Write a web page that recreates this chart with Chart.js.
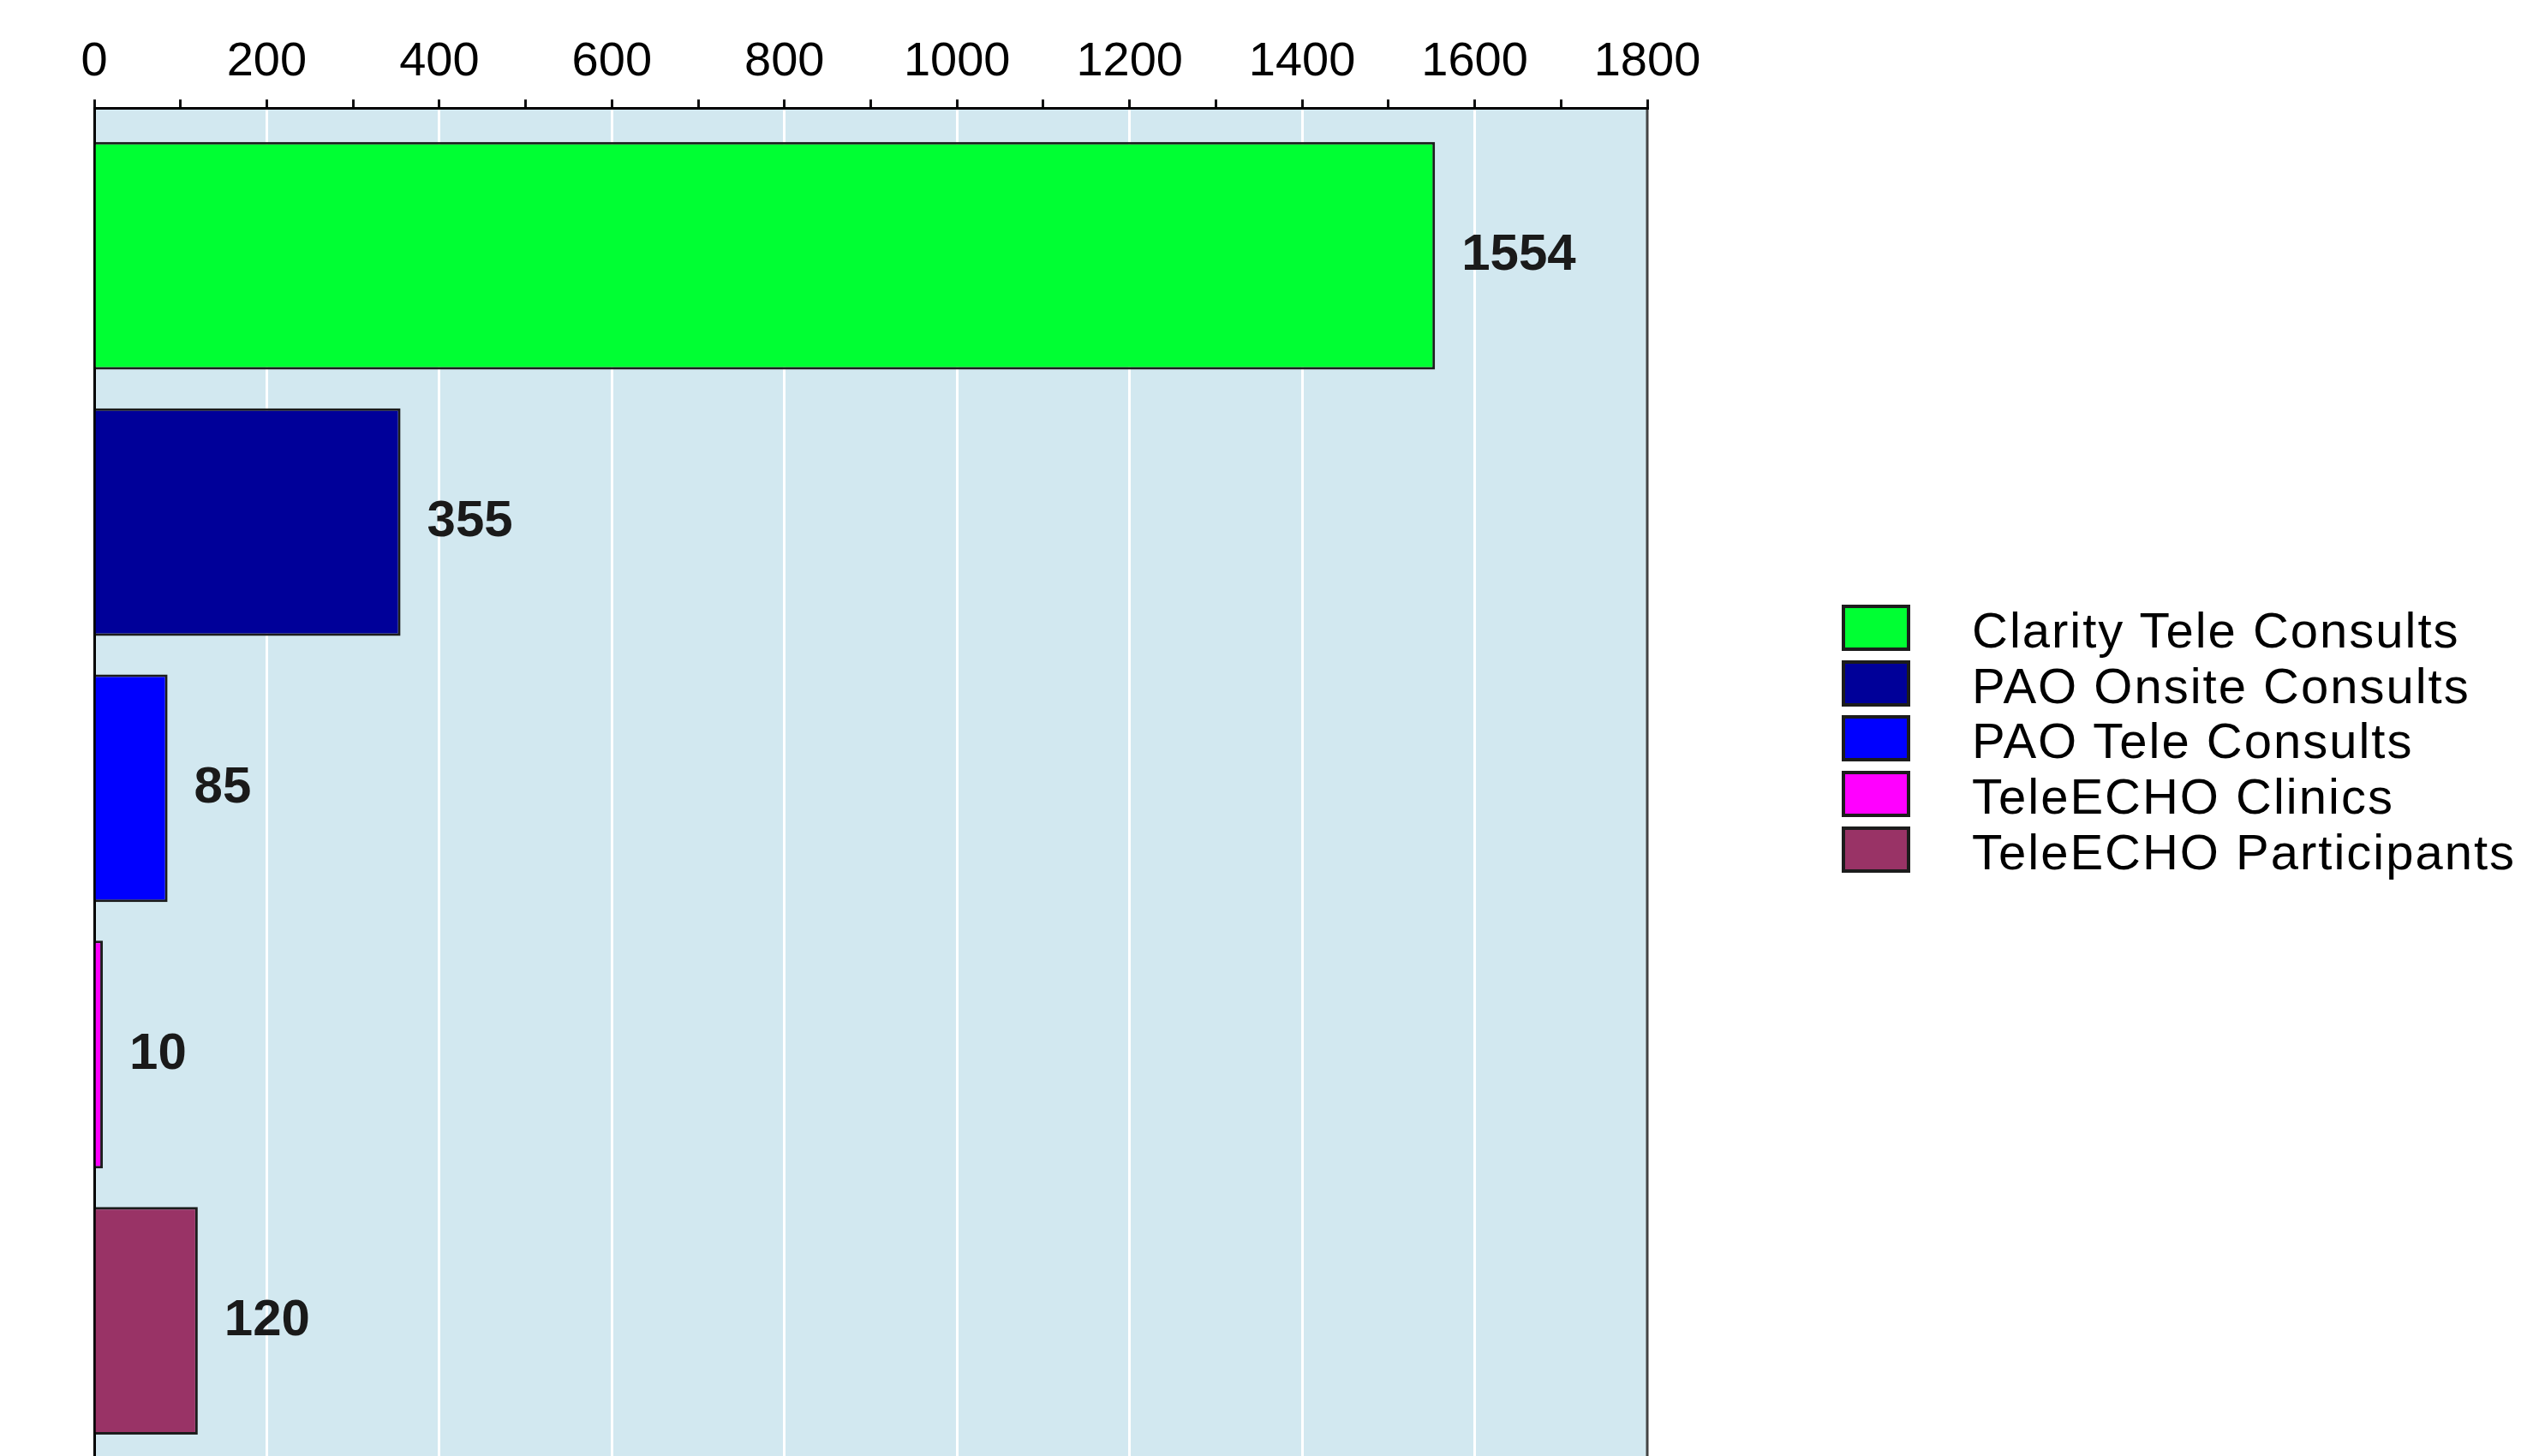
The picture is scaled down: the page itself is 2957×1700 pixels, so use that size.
<!DOCTYPE html>
<html>
<head>
<meta charset="utf-8">
<title>Consults</title>
<script src="https://cdn.jsdelivr.net/npm/chart.js@4.4.1/dist/chart.umd.min.js"></script>
<style>
    html, body { margin: 0; padding: 0; background: #fff; overflow: hidden; }
    #wrap { position: relative; width: 2957px; height: 1700px; }
    #legend {
        position: absolute; left: 2150px; top: 701px;
        font-family: "Liberation Sans", Arial, sans-serif;
    }
    .legend-item { display: flex; align-items: center; height: 64.6px; }
    .legend-box { width: 80px; height: 54px; box-sizing: border-box; border-style: solid; }
    .legend-text {
        margin-left: 72px; font-size: 58px; letter-spacing: 2px; color: #000;
        line-height: 1; position: relative; top: 3px; white-space: nowrap;
    }
</style>
</head>
<body>
<div id="wrap">
    <canvas id="chart"></canvas>
    <div id="legend"></div>
</div>
<script>
// ─── DATA ────────────────────────────────────────────────────
const categories = [
    'Clarity Tele Consults',
    'PAO Onsite Consults',
    'PAO Tele Consults',
    'TeleECHO Clinics',
    'TeleECHO Participants',
];
const values = [1554, 355, 85, 10, 120];
const xTickLabels = [0, 200, 400, 600, 800, 1000, 1200, 1400, 1600, 1800];

// ─── STYLE ───────────────────────────────────────────────────
const barColors = ['#00ff33', '#000099', '#0000ff', '#ff00ff', '#993366'];
const FONT = '"Liberation Sans", Arial, sans-serif';

// Plot background + right frame line
const plotArea = {
    id: 'plotArea',
    beforeDraw(chart) {
        const { ctx, chartArea: { left, top, right, bottom } } = chart;
        ctx.save();
        ctx.fillStyle = 'rgb(210,232,240)';
        ctx.fillRect(left, top, right - left, bottom - top);
        ctx.strokeStyle = '#444';
        ctx.lineWidth = 3;
        ctx.beginPath();
        ctx.moveTo(right, top);
        ctx.lineTo(right, bottom);
        ctx.stroke();
        ctx.restore();
    },
};

// Value next to each bar end
const valueLabels = {
    id: 'valueLabels',
    afterDatasetsDraw(chart) {
        const { ctx } = chart;
        ctx.save();
        ctx.font = `bold 60px ${FONT}`;
        ctx.fillStyle = '#1a1a1a';
        ctx.textAlign = 'left';
        ctx.textBaseline = 'middle';
        chart.data.datasets.forEach((ds, i) => {
            chart.getDatasetMeta(i).data.forEach((bar, j) => {
                ctx.fillText(String(ds.data[j].x), bar.x + 31, bar.y);
            });
        });
        ctx.restore();
    },
};

// HTML legend (built from the chart's own legend items)
const htmlLegend = {
    id: 'htmlLegend',
    afterUpdate(chart) {
        const box = document.getElementById('legend');
        box.innerHTML = '';
        const items = chart.options.plugins.legend.labels.generateLabels(chart);
        items.forEach(item => {
            const row = document.createElement('div');
            row.className = 'legend-item';
            const swatch = document.createElement('span');
            swatch.className = 'legend-box';
            swatch.style.background = item.fillStyle;
            swatch.style.borderColor = item.strokeStyle;
            swatch.style.borderWidth = '4px';
            const text = document.createElement('span');
            text.className = 'legend-text';
            text.textContent = item.text;
            row.appendChild(swatch);
            row.appendChild(text);
            box.appendChild(row);
        });
    },
};

const datasets = categories.map((name, i) => ({
    label: name,
    data: [{ x: values[i], y: i }],
    backgroundColor: barColors[i],
    borderColor: '#1c1c1c',
    borderWidth: 3,
    borderSkipped: 'left',
    grouped: false,
    categoryPercentage: 1,
    barPercentage: 0.855,
}));

new Chart(document.getElementById('chart'), {
    type: 'bar',
    data: { datasets },
    options: {
        indexAxis: 'y',
        responsive: true,
        maintainAspectRatio: false,
        animation: false,
        layout: { padding: { top: 29, left: 110, right: 1034, bottom: 0 } },
        plugins: {
            legend: { display: false },
            tooltip: { enabled: false },
        },
        scales: {
            x: {
                type: 'linear',
                position: 'top',
                min: 0,
                max: 1800,
                ticks: {
                    stepSize: 100,
                    autoSkip: false,
                    maxRotation: 0,
                    padding: 10,
                    color: '#000',
                    font: { family: FONT, size: 56 },
                    callback: v => (xTickLabels.includes(v) ? String(v) : ''),
                },
                grid: {
                    color: c => (c.tick && c.tick.value > 0 && c.tick.value < 1800 &&
                        xTickLabels.includes(c.tick.value)) ? '#ffffff' : 'rgba(0,0,0,0)',
                    lineWidth: 3,
                    tickColor: '#111',
                    tickLength: 10,
                    tickWidth: 3,
                },
                border: { color: '#000', width: 3 },
            },
            y: {
                type: 'linear',
                reverse: true,
                offset: false,
                bounds: 'data',
                min: -0.555,
                max: 4.508,
                afterBuildTicks: scale => {
                    scale.ticks = categories.map((_, i) => ({ value: i }));
                },
                ticks: { display: false },
                grid: { display: false, drawTicks: false },
                border: { color: '#000', width: 3 },
            },
        },
    },
    plugins: [plotArea, valueLabels, htmlLegend],
});
</script>
</body>
</html>
